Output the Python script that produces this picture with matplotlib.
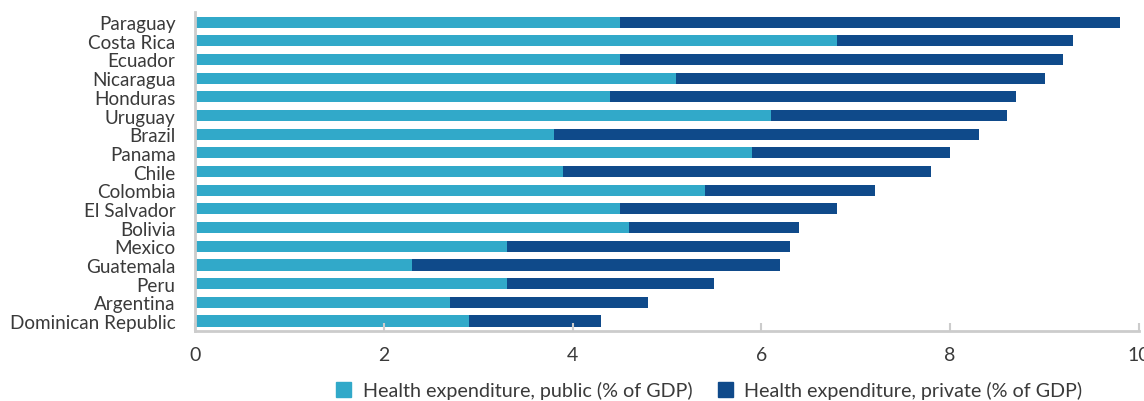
import matplotlib
matplotlib.use("Agg")
import matplotlib.pyplot as plt
from matplotlib.patches import Patch

countries = ["Paraguay", "Costa Rica", "Ecuador", "Nicaragua", "Honduras", "Uruguay",
             "Brazil", "Panama", "Chile", "Colombia", "El Salvador", "Bolivia",
             "Mexico", "Guatemala", "Peru", "Argentina", "Dominican Republic"]
public = [4.5, 6.8, 4.5, 5.1, 4.4, 6.1, 3.8, 5.9, 3.9, 5.4, 4.5, 4.6, 3.3, 2.3, 3.3, 2.7, 2.9]
private = [5.3, 2.5, 4.7, 3.9, 4.3, 2.5, 4.5, 2.1, 3.9, 1.8, 2.3, 1.8, 3.0, 3.9, 2.2, 2.1, 1.4]
xticks = [0, 2, 4, 6, 8, 10]

c_pub = "#31A9C9"
c_priv = "#0F4A8A"
txt = "#3a3a3a"

plt.rcParams['font.family'] = ['Lato', 'DejaVu Sans']

fig = plt.figure(figsize=(11.44, 4.02), dpi=100)
ax = fig.add_axes([0.1705, 0.175, 0.8251, 0.793])

n = len(countries)
ypos = [n - 1 - i for i in range(n)]
ax.barh(ypos, public, height=0.6, color=c_pub)
ax.barh(ypos, private, left=public, height=0.6, color=c_priv)

ax.set_xlim(0, 10)
ax.set_ylim(-0.52, n - 0.45)
ax.set_xticks(xticks)
ax.set_xticklabels([str(t) for t in xticks], fontsize=14, color=txt)
ax.set_yticks(ypos)
ax.set_yticklabels(countries, fontsize=13.6, color=txt)
ax.tick_params(axis='y', length=0, pad=14)
ax.tick_params(axis='x', direction='in', length=6, width=1.5, color='#cccccc', pad=11)

for s in ['top', 'right']:
    ax.spines[s].set_visible(False)
for s in ['left', 'bottom']:
    ax.spines[s].set_color('#cccccc')
    ax.spines[s].set_linewidth(2)

handles = [Patch(color=c_pub, label="Health expenditure, public (% of GDP)"),
           Patch(color=c_priv, label="Health expenditure, private (% of GDP)")]
leg = fig.legend(handles=handles, loc='lower center', bbox_to_anchor=(0.62, -0.04), ncol=2,
                 frameon=False, fontsize=14.2, handlelength=0.75, handleheight=0.75,
                 handletextpad=0.6, columnspacing=1.3)
for t in leg.get_texts():
    t.set_color(txt)

fig.savefig("out.png", dpi=100)
